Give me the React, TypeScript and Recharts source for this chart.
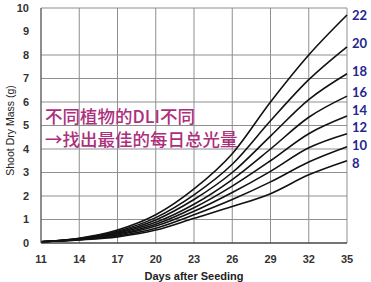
import { CartesianGrid, Line, LineChart, XAxis, YAxis } from "recharts";

const days = [11, 14, 17, 20, 23, 26, 29, 32, 35];
const dli22 = [0.05, 0.2, 0.55, 1.2, 2.3, 3.8, 6.0, 8.0, 9.7];
const dli20 = [0.05, 0.19, 0.5, 1.08, 2.05, 3.35, 5.2, 6.95, 8.35];
const dli18 = [0.05, 0.18, 0.46, 0.98, 1.85, 3.0, 4.55, 6.1, 7.2];
const dli16 = [0.05, 0.17, 0.42, 0.88, 1.65, 2.7, 4.0, 5.35, 6.25];
const dli14 = [0.05, 0.16, 0.38, 0.8, 1.5, 2.42, 3.5, 4.65, 5.4];
const dli12 = [0.05, 0.15, 0.34, 0.72, 1.35, 2.15, 3.05, 4.05, 4.65];
const dli10 = [0.05, 0.14, 0.3, 0.63, 1.2, 1.85, 2.6, 3.45, 4.1];
const dli8 = [0.05, 0.13, 0.26, 0.55, 1.05, 1.55, 2.1, 2.9, 3.5];
const seriesNames = ["22", "20", "18", "16", "14", "12", "10", "8"];
const seriesValues = [dli22, dli20, dli18, dli16, dli14, dli12, dli10, dli8];
const yTicks = [0, 1, 2, 3, 4, 5, 6, 7, 8, 9, 10];

// nudges so the end labels sit where the original spreads them
const labelDy = [0, -4, -3, -4, -6, -7, -2, 2];

const data = days.map((day, i) => {
  const row: Record<string, number> = { day };
  seriesNames.forEach((name, s) => {
    row["d" + name] = seriesValues[s][i];
  });
  return row;
});

const tickStyle = { fill: "#333", fontSize: 11, fontWeight: 700, fontFamily: "Liberation Sans, Arial" };

function endLabel(name: string, dy: number) {
  return (props: any) => {
    if (props.index !== days.length - 1) return <g />;
    return (
      <text
        x={props.x + 5}
        y={props.y + 5 + dy}
        fill="#26268c"
        fontSize={13}
        fontWeight={700}
        fontFamily="Lato, Liberation Sans, sans-serif"
      >
        {name}
      </text>
    );
  };
}

export default function App() {
  return (
    <div style={{ position: "absolute", left: 0, top: 0, width: 371, height: 282, background: "#fff" }}>
      <LineChart width={371} height={282} data={data} margin={{ top: 8, right: 24, bottom: 0, left: 0 }}>
        <CartesianGrid stroke="#8f8f8f" strokeWidth={1} />
        <XAxis
          dataKey="day"
          type="number"
          domain={[11, 35]}
          ticks={days}
          tickLine={false}
          axisLine={{ stroke: "#222" }}
          tick={tickStyle}
          tickMargin={6}
          height={39}
          label={{
            value: "Days after Seeding",
            position: "insideBottom",
            offset: 2,
            style: { fill: "#222", fontSize: 11, fontWeight: 700, fontFamily: "Liberation Sans, Arial" },
          }}
        />
        <YAxis
          type="number"
          domain={[0, 10]}
          ticks={yTicks}
          tickLine={false}
          axisLine={{ stroke: "#555" }}
          tick={tickStyle}
          tickMargin={6}
          width={41}
          label={{
            value: "Shoot Dry Mass (g)",
            angle: -90,
            position: "insideLeft",
            offset: 10,
            dy: 5,
            style: { fill: "#222", fontSize: 10.5, fontFamily: "Liberation Sans, Arial", textAnchor: "middle" },
          }}
        />
        {seriesNames.map((name, s) => (
          <Line
            key={name}
            dataKey={"d" + name}
            type="monotone"
            stroke="#111"
            strokeWidth={1.6}
            dot={false}
            isAnimationActive={false}
            label={endLabel(name, labelDy[s])}
          />
        ))}
      </LineChart>
      <div
        style={{
          position: "absolute",
          left: 45,
          top: 104,
          color: "#ad2f7c",
          fontSize: 17.5,
          fontWeight: 500,
          lineHeight: "23px",
          fontFamily: "Noto Sans CJK SC, sans-serif",
          whiteSpace: "nowrap",
        }}
      >
        <div>不同植物的DLI不同</div>
        <div>→找出最佳的每日总光量</div>
      </div>
    </div>
  );
}
